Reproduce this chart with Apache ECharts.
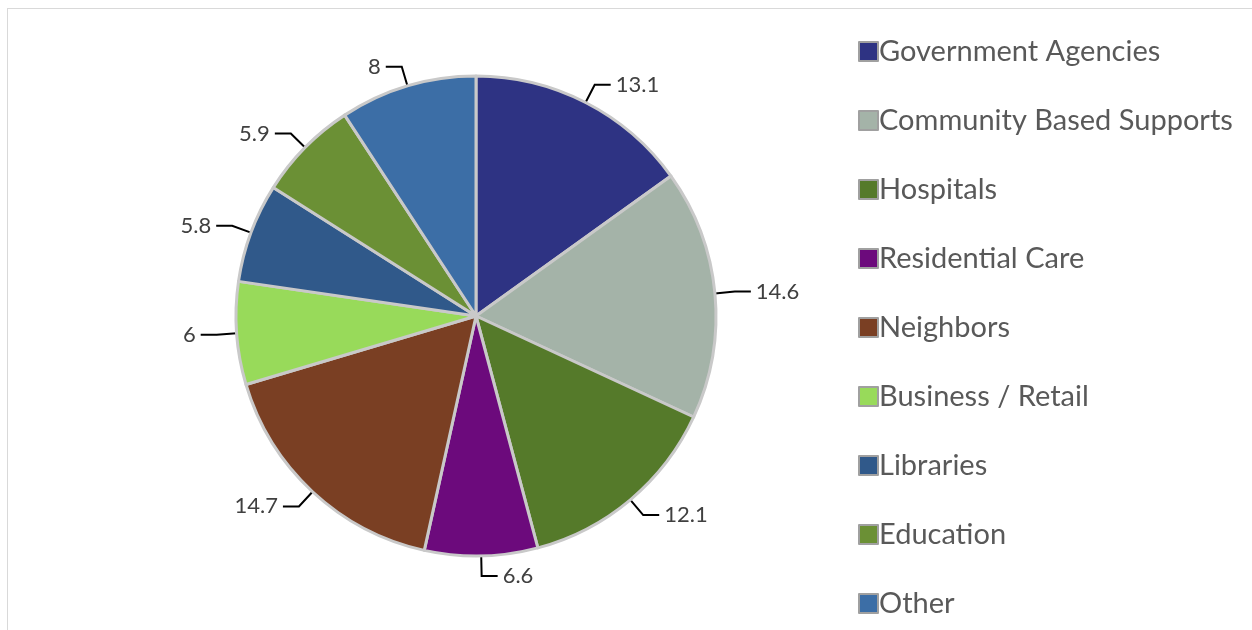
<!DOCTYPE html>
<html>
<head>
<meta charset="utf-8">
<script src="https://cdn.jsdelivr.net/npm/echarts@6/dist/echarts.min.js"></script>
<style>
html,body{margin:0;padding:0;background:#fff;}
#frame{position:absolute;left:7px;top:8px;width:1260px;height:640px;border-top:1px solid #d9d9d9;border-left:1px solid #d9d9d9;}
#chart{position:absolute;left:0;top:0;width:1252px;height:630px;}
</style>
</head>
<body>
<div id="frame"></div>
<div id="chart"></div>
<script>
const categories = ["Government Agencies","Community Based Supports","Hospitals","Residential Care","Neighbors","Business / Retail","Libraries","Education","Other"];
const values = [13.1, 14.6, 12.1, 6.6, 14.7, 6, 5.8, 5.9, 8];
const colors = ["#2e3383","#a4b3a8","#557a2a","#6c0a7c","#7a3f23","#98da5a","#30598a","#6b9035","#3c6ea6"];

const chart = echarts.init(document.getElementById('chart'), null, {renderer:'canvas'});
chart.setOption({
  animation:false,
  color: colors,
  legend:{
    orient:'vertical',
    left:853, top:32,
    itemWidth:19, itemHeight:19, itemGap:40,
    icon:'rect',
    textStyle:{fontFamily:'Lato', fontSize:29, color:'#595959', padding:[0,0,0,-4]},
    itemStyle:{borderColor:'#a0a0a0', borderWidth:2},
    data: categories
  },
  series:[{
    type:'pie',
    center:[476,316],
    radius:240,
    startAngle:90,
    clockwise:true,
    data: categories.map((c,i)=>({name:c, value:values[i]})),
    itemStyle:{borderColor:'#c9c9c9', borderWidth:3},
    label:{show:true, position:'outside', formatter:'{c}', fontFamily:'Lato', fontSize:22, color:'#404040'},
    labelLine:{show:true, length:20, length2:16, lineStyle:{color:'#000', width:2}},
    emphasis:{disabled:true}
  }]
});
</script>
</body>
</html>
